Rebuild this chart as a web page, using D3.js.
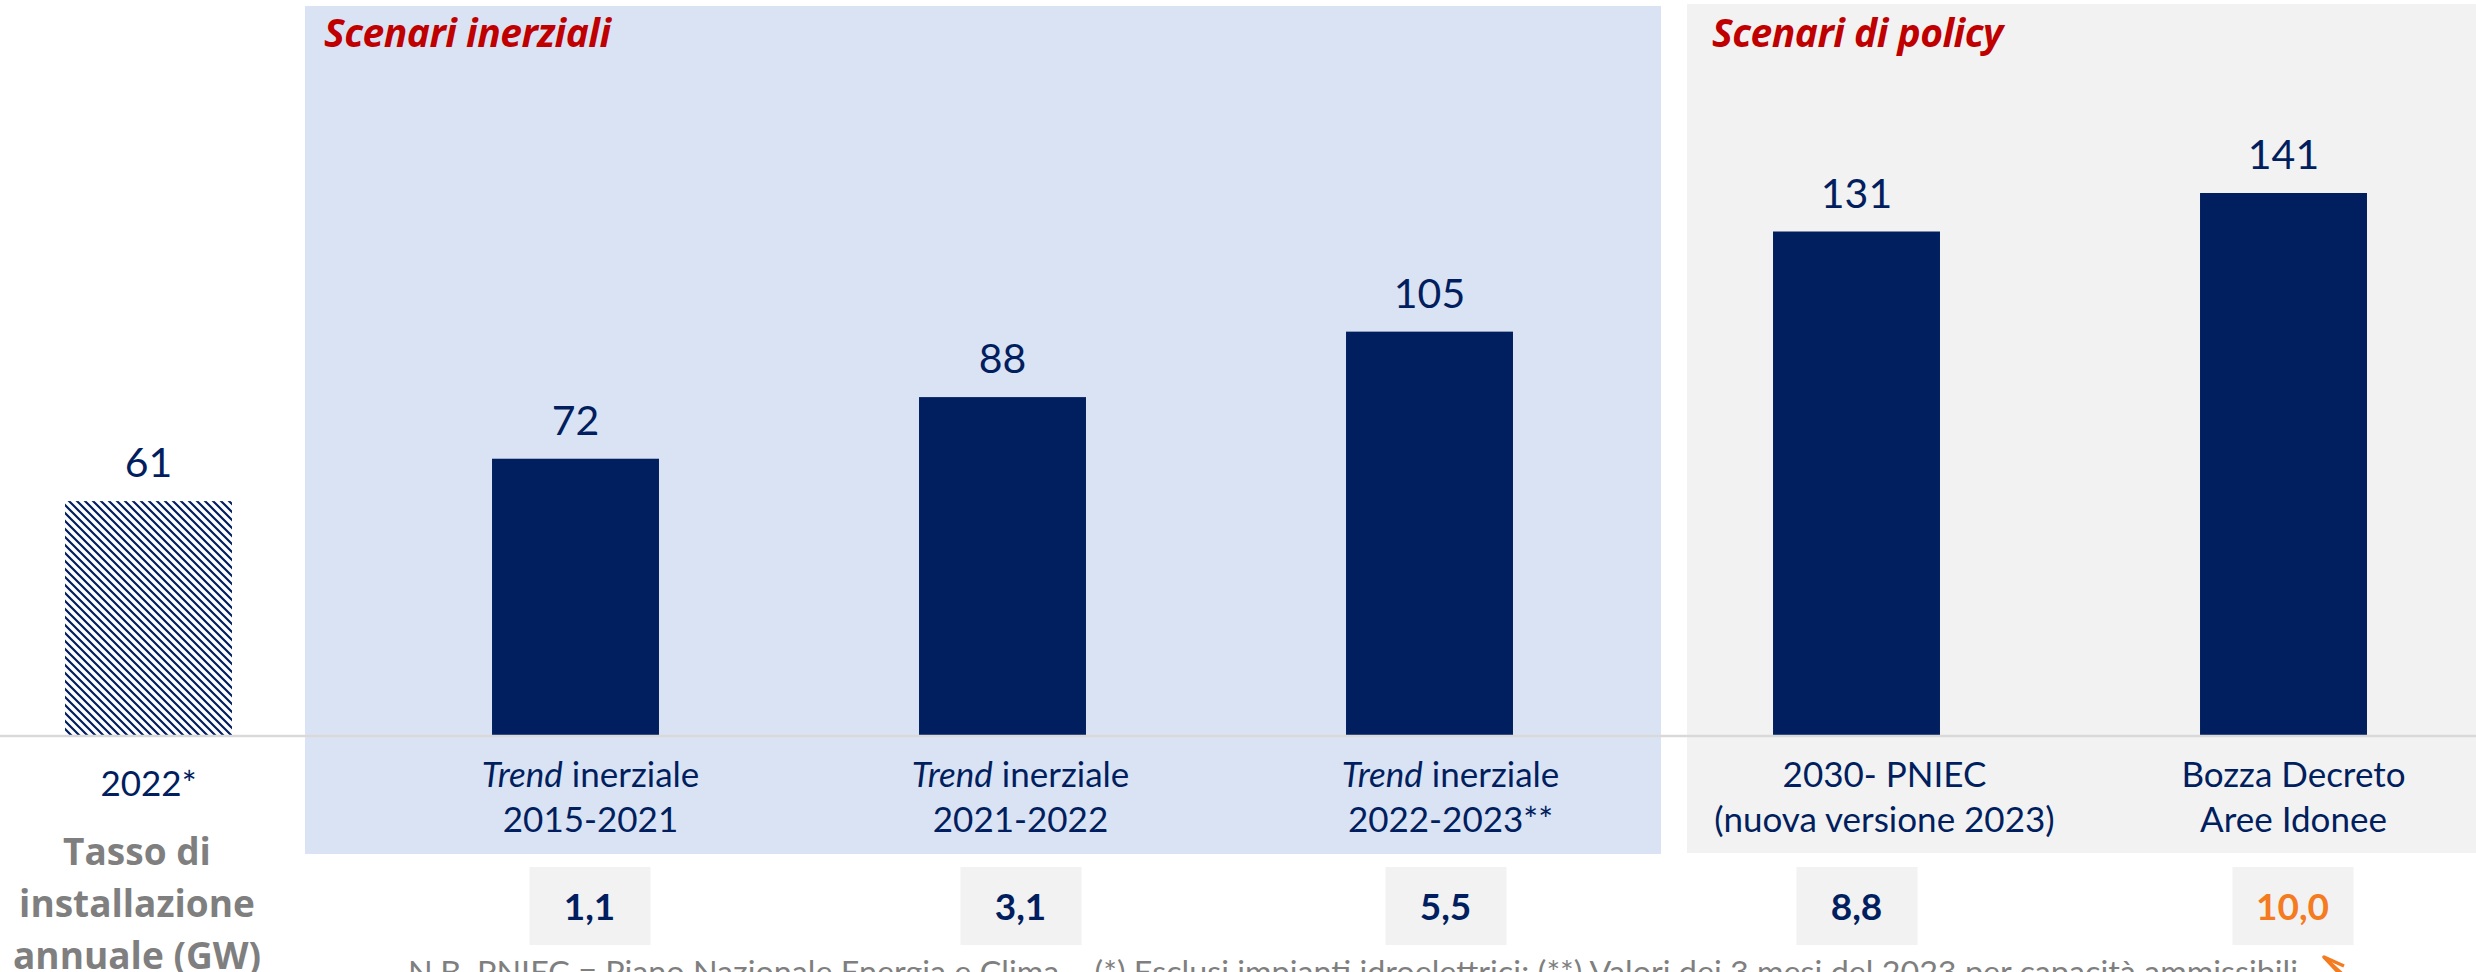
<!DOCTYPE html>
<html>
<head>
<meta charset="utf-8">
<script src="https://cdn.jsdelivr.net/npm/d3@7"></script>
<style>
  body { margin: 0; background: #fff; }
  svg { display: block; font-family: Lato, "Noto Sans", sans-serif; }
</style>
</head>
<body>
<script>
// data
var categories = ["2022*", "Trend inerziale 2015-2021", "Trend inerziale 2021-2022",
  "Trend inerziale 2022-2023**", "2030- PNIEC (nuova versione 2023)", "Bozza Decreto Aree Idonee"];
var labelLines = [["2022*"], ["Trend inerziale", "2015-2021"], ["Trend inerziale", "2021-2022"],
  ["Trend inerziale", "2022-2023**"], ["2030- PNIEC", "(nuova versione 2023)"], ["Bozza Decreto", "Aree Idonee"]];
var capacity = [61, 72, 88, 105, 131, 141];
var annualRate = [null, 1.1, 3.1, 5.5, 8.8, 10.0];
var groups = [
  { name: "Scenari inerziali", from: 1, to: 3 },
  { name: "Scenari di policy", from: 4, to: 5 }
];

var W = 2476, H = 972;
var navy = "#011e5e", red = "#c00000", orange = "#f47b20", grey = "#7f7f7f";
var baseY = 736;

var svg = d3.select("body").append("svg")
  .attr("width", W)
  .attr("height", H);

var x = d3.scaleBand()
  .domain(categories)
  .range([-65, 2497])
  .paddingInner(0.609)
  .paddingOuter(0.3045);

var y = d3.scaleLinear()
  .domain([0, 141])
  .range([baseY, 193]);

// label and box nudges (text boxes sit slightly off the bar centre)
var labelShift = [0, 15, 18, 21, 28, 10];
var boxShift = [0, 14, 18, 16, 0, 9];

// hatch for the 2022 bar
var defs = svg.append("defs");
defs.append("pattern")
  .attr("id", "hatch")
  .attr("patternUnits", "userSpaceOnUse")
  .attr("width", 8)
  .attr("height", 8)
  .call(function(p) {
    p.append("rect").attr("width", 8).attr("height", 8).attr("fill", "#fff");
    p.append("path")
      .attr("d", "M-2,-2 L10,10 M-2,6 L2,10 M6,-2 L10,2")
      .attr("stroke", navy)
      .attr("stroke-width", 2.2);
  });

// background panels
svg.append("rect").attr("x", 305).attr("y", 6).attr("width", 1661 - 305).attr("height", 854 - 6)
  .attr("fill", "#dae3f3");
svg.append("rect").attr("x", 1687).attr("y", 4).attr("width", W - 1687).attr("height", 853 - 4)
  .attr("fill", "#f2f2f2");

svg.selectAll("text.group")
  .data(groups)
  .enter()
  .append("text")
  .attr("class", "group")
  .attr("x", function(d) { return d.from == 1 ? 324 : 1712; })
  .attr("y", 47)
  .attr("fill", red)
  .attr("font-family", "'Open Sans', sans-serif")
  .attr("font-size", 39)
  .attr("font-weight", "bold")
  .attr("font-style", "italic")
  .attr("letter-spacing", -0.5)
  .text(function(d) { return d.name; });

// bars
svg.selectAll("rect.bar")
  .data(capacity)
  .enter()
  .append("rect")
  .attr("class", "bar")
  .attr("x", function(d, i) { return x(categories[i]); })
  .attr("y", function(d) { return y(d); })
  .attr("width", x.bandwidth())
  .attr("height", function(d) { return baseY - y(d); })
  .attr("fill", function(d, i) { return i == 0 ? "url(#hatch)" : navy; });

svg.selectAll("text.value")
  .data(capacity)
  .enter()
  .append("text")
  .attr("class", "value")
  .attr("x", function(d, i) { return x(categories[i]) + x.bandwidth() / 2; })
  .attr("y", function(d) { return y(d) - 24; })
  .attr("text-anchor", "middle")
  .attr("fill", navy)
  .attr("font-size", 41)
  .text(function(d) { return d; });

// baseline
svg.append("line")
  .attr("x1", 0).attr("x2", W)
  .attr("y1", baseY).attr("y2", baseY)
  .attr("stroke", "#d9d9d9")
  .attr("stroke-width", 2.5);

// category labels
labelLines.forEach(function(lines, i) {
  var cx = x(categories[i]) + x.bandwidth() / 2 + labelShift[i];
  var t = svg.append("text")
    .attr("text-anchor", "middle")
    .attr("fill", navy)
    .attr("font-size", 35);
  lines.forEach(function(line, j) {
    var ty = i == 0 ? 796 : 787 + j * 45;
    var ts = t.append("tspan").attr("x", cx).attr("y", ty);
    if (line.indexOf("Trend ") == 0) {
      ts.append("tspan").attr("font-style", "italic").text("Trend");
      ts.append("tspan").text(line.slice(5));
    } else {
      ts.text(line);
    }
  });
});

// annual installation boxes
var fmt = function(v) { return d3.format(".1f")(v).replace(".", ","); };
var boxes = svg.selectAll("g.rate")
  .data(annualRate.map(function(v, i) { return { v: v, i: i }; }).filter(function(d) { return d.v != null; }))
  .enter()
  .append("g")
  .attr("class", "rate")
  .attr("transform", function(d) {
    return "translate(" + (x(categories[d.i]) + x.bandwidth() / 2 + boxShift[d.i]) + ",0)";
  });
boxes.append("rect")
  .attr("x", -60).attr("y", 867)
  .attr("width", 121).attr("height", 78)
  .attr("fill", "#f2f2f2");
boxes.append("text")
  .attr("y", 920)
  .attr("text-anchor", "middle")
  .attr("font-size", 37)
  .attr("font-weight", "bold")
  .attr("fill", function(d) { return d.i == 5 ? orange : navy; })
  .text(function(d) { return fmt(d.v); });

// row title
var rowTitle = svg.append("text")
  .attr("text-anchor", "middle")
  .attr("fill", grey)
  .attr("font-family", "'Open Sans', sans-serif")
  .attr("font-size", 37)
  .attr("font-weight", "bold");
["Tasso di", "installazione", "annuale (GW)"].forEach(function(s, j) {
  rowTitle.append("tspan").attr("x", 137).attr("y", 865 + j * 52).text(s);
});

// footnote (cut at the bottom edge)
svg.append("text")
  .attr("x", 408)
  .attr("y", 983)
  .attr("fill", grey)
  .attr("font-size", 31)
  .attr("textLength", 1890)
  .attr("lengthAdjust", "spacingAndGlyphs")
  .text("N.B. PNIEC = Piano Nazionale Energia e Clima – (*) Esclusi impianti idroelettrici; (**) Valori dei 3 mesi del 2023 per capacità ammissibili");

// orange arrow pointing at the 10,0 box
svg.append("path")
  .attr("d", "M2338,972 L2324,957 L2344,966")
  .attr("fill", "none")
  .attr("stroke", orange)
  .attr("stroke-width", 3.5)
  .attr("stroke-linejoin", "round");
svg.append("line")
  .attr("x1", 2324).attr("y1", 957).attr("x2", 2360).attr("y2", 990)
  .attr("stroke", orange)
  .attr("stroke-width", 3);
</script>
</body>
</html>
